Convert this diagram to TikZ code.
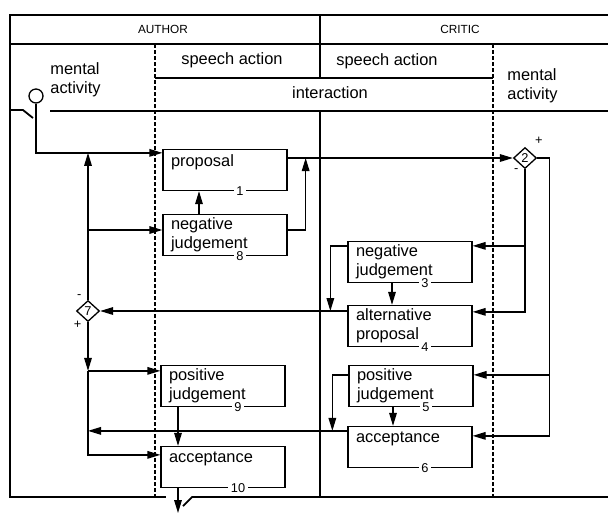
\documentclass[tikz,border=0pt]{standalone}
\usepackage{fontspec}
\setmainfont{Liberation Sans}
\usepackage{tikz}
\usetikzlibrary{arrows.meta,positioning,shapes.geometric,calc}
\newcommand{\actfont}{\fontsize{8.2}{9.5}\selectfont}
\newcommand{\tagfont}{\fontsize{6.4}{7}\selectfont}
\newcommand{\laneheadfont}{\fontsize{5.9}{7}\selectfont}

\begin{document}
\begin{tikzpicture}[
  x=0.5pt, y=-0.5pt,
  act/.style={draw, line width=0.65pt, minimum width=62pt, minimum height=20.5pt,
    text width=54pt, inner xsep=4pt, inner ysep=0pt, align=left, font=\actfont},
  tag/.style={fill=white, inner xsep=1.2pt, inner ysep=0pt, anchor=center,
    xshift=7.5pt, font=\tagfont},
  gate/.style={draw, diamond, line width=0.65pt, inner sep=0pt,
    minimum width=11.5pt, minimum height=10.5pt, font=\tagfont},
  sign/.style={font=\tagfont, inner sep=0.5pt},
  lanehead/.style={font=\laneheadfont, inner sep=0pt},
  lbl/.style={font=\actfont, inner sep=0pt},
  arr/.style={-{Triangle[length=6.5pt,width=3.8pt]}, line width=0.65pt},
  frame/.style={line width=0.9pt},
  rule/.style={line width=0.7pt},
  lane/.style={line width=0.6pt, dash pattern=on 2pt off 1pt}
]
\useasboundingbox (0,0) rectangle (608,516);

% frame and lanes
\draw[frame] (608,15) -- (10,15) -- (10,497) -- (166,497);
\draw[frame] (183,506) -- (192,497) -- (608,497);
\draw[frame] (10,44) -- (608,44);
\draw[frame] (10,110) -- (23,110) -- (33,118);
\draw[frame] (50,111) -- (608,111);
\draw[rule] (155,78) -- (493,78);
\draw[rule] (320,15) -- (320,78);
\draw[rule] (320,111) -- (320,497);
\draw[lane] (155,44) -- (155,497);
\draw[lane] (493,44) -- (493,497);

\node[lanehead] (author) at (163,29) {AUTHOR};
\node[lanehead] (critic) at (460,29) {CRITIC};
\node[lbl] (speech1) at (232,60) {speech action};
\node[lbl] (speech2) at (387,61) {speech action};
\node[lbl] (inter) at (330,93) {interaction};
\node[lbl, align=left, anchor=west] (mental1) at (50,80) {mental\\activity};
\node[lbl, align=left, anchor=west] (mental2) at (507,86) {mental\\activity};

\node[draw, circle, line width=0.65pt, minimum size=7pt, inner sep=0pt] (start) at (36,96) {};

\node[act, label={[tag]south:1}]  (p1)  at (225,170) {proposal\\\mbox{}};
\node[act, label={[tag]south:8}]  (n8)  at (225,235) {negative\\judgement};
\node[act, label={[tag]south:9}]  (j9)  at (223,386) {positive\\judgement};
\node[act, label={[tag]south:10}] (c10) at (223,467) {acceptance\\\mbox{}};
\node[act, label={[tag]south:3}]  (n3)  at (410,262) {negative\\judgement};
\node[act, label={[tag]south:4}]  (a4)  at (410,326) {alternative\\proposal};
\node[act, label={[tag]south:5}]  (j5)  at (411,386) {positive\\judgement};
\node[act, label={[tag]south:6}]  (c6)  at (410,447) {acceptance\\\mbox{}};

\node[gate, label={[sign, label distance=3.5pt]55:+}, label={[sign, label distance=1pt]240:-}]
  (d2) at (525,158) {2};
\node[gate, label={[sign, label distance=2pt]115:-}, label={[sign, label distance=1pt]240:+}]
  (d7) at (88,311) {7};

\coordinate (p1in)  at ([yshift=-2pt]p1.north west);
\coordinate (n8in)  at ([yshift=2.5pt]n8.west);
\coordinate (j9in)  at ([yshift=-3pt]j9.north west);
\coordinate (c10in) at ([yshift=-4.5pt]c10.north west);
\coordinate (c6in)  at ([yshift=-2.5pt]c6.north west);
\coordinate (j1) at ($(p1.east |- d2)+(18,0)$);
\coordinate (j2) at ($(d2.east)+(12,0)$);
\coordinate (j3) at ($(a4.west |- d7)+(-17,0)$);
\coordinate (exit) at (178,513);

\draw[arr] (start.south) |- (p1in);
\draw[arr] (p1.east |- d2) -- (d2);
\draw[arr] ([yshift=2.5pt]n8.east) -| (j1);
\draw[arr] ([xshift=-13pt]n8.north) -- ([xshift=-13pt]p1.south);

\draw[arr] (d2.south) |- ([yshift=-2.5pt]n3.north east);
\draw[arr] (d2.south) |- ([yshift=-3.5pt]a4.north east);
\draw[arr] (d2.east) -- (j2) |- ([yshift=-5pt]j5.north east);
\draw[arr] (j2) |- ([yshift=-5pt]c6.north east);

\foreach \a/\b in {n3/a4, j5/c6}
  \draw[arr] ([xshift=-9pt]\a.south) -- ([xshift=-9pt]\a.south |- \b.north);
\draw[arr] ([yshift=-2.5pt]n3.north west) -| (j3);
\draw[arr] (a4.west |- d7) -- (d7);

\draw[arr] (d7.north) -- (d7.north |- p1in);
\draw[arr] (d7.north |- n8in) -- (n8in);
\draw[arr] (d7.south) -- (d7.south |- j9in);
\draw[arr] (d7.south |- j9in) -- (j9in);
\draw[arr] (d7.south |- j9in) |- (c10in);
\draw[arr] (c6in) -- (d7.south |- c6in);
\draw[arr] ([yshift=-5pt]j5.north west) -| ($(c6in)+(-15,0)$);

\draw[arr] ([xshift=-22.5pt]j9.south) -- ([xshift=-22.5pt]j9.south |- c10.north);
\draw[arr] (c10.south -| exit) -- (exit);
\end{tikzpicture}
\end{document}
